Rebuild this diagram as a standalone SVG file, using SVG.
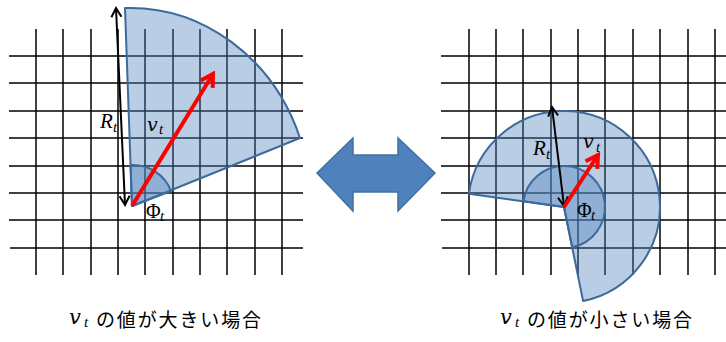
<svg xmlns="http://www.w3.org/2000/svg" width="726" height="342" viewBox="0 0 726 342">
<style>
.grid line{stroke:#000;stroke-width:1.5}
.sec{fill:#4F81BD;fill-opacity:0.4;stroke:#3C6A9C;stroke-width:2;stroke-linejoin:round}
.m{font-family:"Liberation Serif","DejaVu Serif",serif;font-style:italic;fill:#000}
.v{font-family:"DejaVu Serif","Liberation Serif",serif;font-style:italic;fill:#000}
.u{font-family:"Liberation Serif","DejaVu Serif",serif;fill:#000}
.jp{font-family:"Noto Sans CJK JP","Noto Sans",sans-serif;fill:#000}
</style>
<defs>
<marker id="blk" viewBox="-12 -8 16 16" refX="0" refY="0" markerWidth="16" markerHeight="16" markerUnits="userSpaceOnUse" orient="auto-start-reverse">
<path d="M-9,-5 L0,0 L-9,5" fill="none" stroke="#000" stroke-width="2"/>
</marker>
<marker id="red" viewBox="-16 -10 20 20" refX="0" refY="0" markerWidth="20" markerHeight="20" markerUnits="userSpaceOnUse" orient="auto">
<path d="M-12,-7 L0,0 L-12,7" fill="none" stroke="#FF0000" stroke-width="4" stroke-linejoin="miter"/>
</marker>
</defs>
<rect width="726" height="342" fill="#fff"/>
<g id="grid-left" class="grid">
<line x1="36" y1="29" x2="36" y2="275"/><line x1="63" y1="29" x2="63" y2="275"/><line x1="91" y1="29" x2="91" y2="275"/><line x1="118" y1="29" x2="118" y2="275"/><line x1="145" y1="29" x2="145" y2="275"/><line x1="173" y1="29" x2="173" y2="275"/><line x1="200" y1="29" x2="200" y2="275"/><line x1="227" y1="29" x2="227" y2="275"/><line x1="255" y1="29" x2="255" y2="275"/><line x1="282" y1="29" x2="282" y2="275"/>
<line x1="9" y1="56" x2="303" y2="56"/><line x1="9" y1="83" x2="303" y2="83"/><line x1="9" y1="111" x2="303" y2="111"/><line x1="9" y1="138" x2="303" y2="138"/><line x1="9" y1="166" x2="303" y2="166"/><line x1="9" y1="193" x2="303" y2="193"/><line x1="9" y1="220" x2="303" y2="220"/><line x1="10" y1="248" x2="303" y2="248"/>
</g>
<g id="grid-right" class="grid">
<line x1="469" y1="29" x2="469" y2="275"/><line x1="496" y1="29" x2="496" y2="275"/><line x1="523" y1="29" x2="523" y2="275"/><line x1="551" y1="29" x2="551" y2="275"/><line x1="578" y1="29" x2="578" y2="275"/><line x1="605" y1="29" x2="605" y2="275"/><line x1="633" y1="29" x2="633" y2="275"/><line x1="660" y1="29" x2="660" y2="275"/><line x1="688" y1="29" x2="688" y2="275"/><line x1="715" y1="29" x2="715" y2="275"/>
<line x1="441" y1="56" x2="726" y2="56"/><line x1="441" y1="83" x2="726" y2="83"/><line x1="441" y1="111" x2="726" y2="111"/><line x1="441" y1="138" x2="726" y2="138"/><line x1="441" y1="166" x2="726" y2="166"/><line x1="441" y1="193" x2="726" y2="193"/><line x1="441" y1="220" x2="726" y2="220"/><line x1="442" y1="248" x2="726" y2="248"/>
</g>
<g id="sector-left">
<path class="sec" d="M132,206 L125,8 A181 198 0 0 1 300,138 Z"/>
<path class="sec" d="M132,206 L130.5,165 A41 41 0 0 1 171,191 Z"/>
</g>
<g id="sector-right">
<path class="sec" d="M564,207 L468.9,193.7 A96 96 0 1 1 583.1,301.1 Z"/>
<path class="sec" d="M564,207 L523.4,201.3 A41 41 0 1 1 572.2,247.2 Z"/>
</g>
<g id="double-arrow">
<path d="M317,173 L353,138 L353,155 L398,155 L398,138 L435,173 L398,211 L398,192 L353,192 L353,211 Z" fill="#4F81BD" stroke="#41719C" stroke-width="1.5" stroke-linejoin="miter"/>
</g>
<g id="connectors">
<line x1="116" y1="8" x2="125" y2="205" stroke="#000" stroke-width="2" marker-start="url(#blk)" marker-end="url(#blk)"/>
<line x1="132" y1="206" x2="213" y2="74" stroke="#FF0000" stroke-width="4" marker-end="url(#red)"/>
<line x1="552" y1="107" x2="564" y2="206" stroke="#000" stroke-width="2" marker-start="url(#blk)" marker-end="url(#blk)"/>
<line x1="564" y1="207" x2="598" y2="155" stroke="#FF0000" stroke-width="4" marker-end="url(#red)"/>
</g>
<g id="labels-left">
<text class="m" x="100" y="128" font-size="21">R</text><text class="m" x="113" y="132" font-size="15">t</text>
<text class="v" x="147" y="131" font-size="19">v</text><text class="m" x="159" y="134" font-size="15">t</text>
<text class="u" x="146" y="218" font-size="20">Φ</text><text class="m" x="160" y="221" font-size="15">t</text>
</g>
<g id="labels-right">
<text class="m" x="533" y="155" font-size="21">R</text><text class="m" x="546" y="159" font-size="15">t</text>
<text class="v" x="583" y="148" font-size="19">v</text><text class="m" x="596" y="152" font-size="15">t</text>
<text class="u" x="577" y="217" font-size="20">Φ</text><text class="m" x="591" y="220" font-size="15">t</text>
</g>
<g id="caption-left">
<text class="v" x="69" y="324" font-size="21">v</text><text class="m" x="84" y="327" font-size="15">t</text>
<text class="jp" x="96" y="327" font-size="19" textLength="165" lengthAdjust="spacing">の値が大きい場合</text>
</g>
<g id="caption-right">
<text class="v" x="500" y="324" font-size="21">v</text><text class="m" x="515" y="327" font-size="15">t</text>
<text class="jp" x="527" y="327" font-size="19" textLength="165" lengthAdjust="spacing">の値が小さい場合</text>
</g>
</svg>
